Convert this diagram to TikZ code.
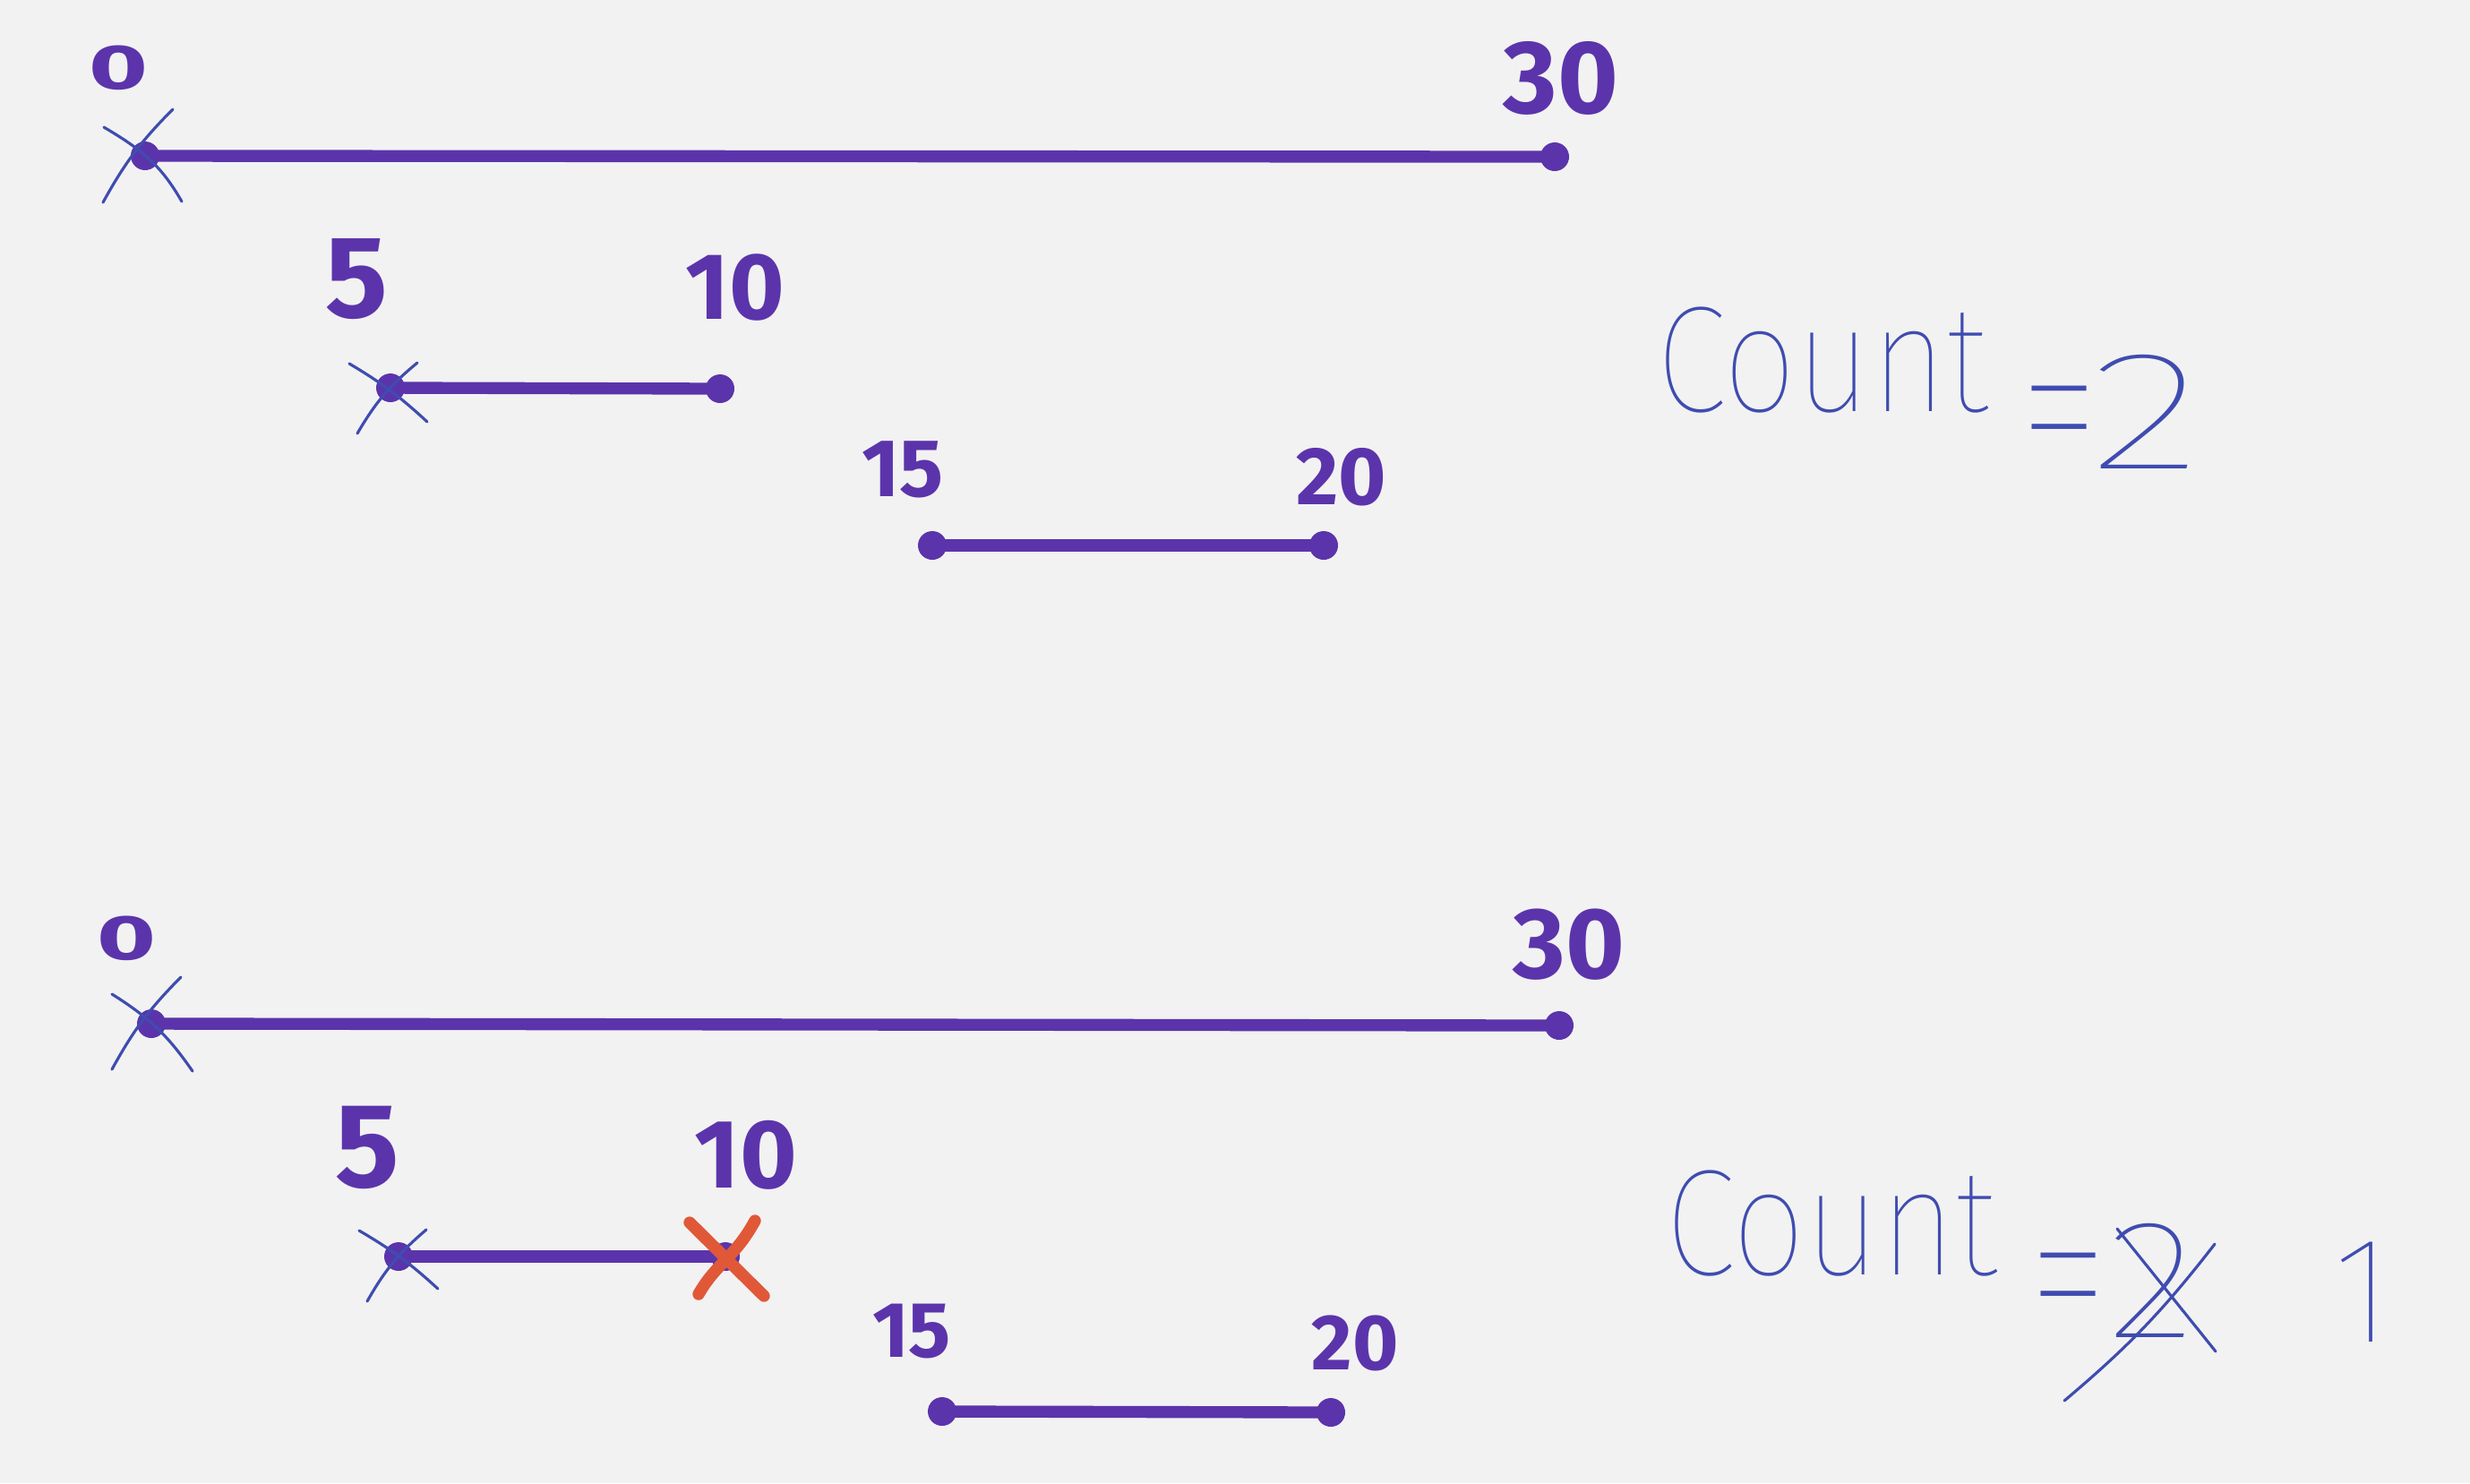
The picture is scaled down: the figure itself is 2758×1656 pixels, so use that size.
\documentclass[tikz,border=0pt]{standalone}
\usepackage{fontspec}
\usepackage{graphicx}
\setmainfont{Fira Sans}
\newfontfamily\thinfont{Fira Sans Thin}
\definecolor{bg}{RGB}{242,242,242}
\definecolor{pur}{RGB}{91,52,171}
\definecolor{ink}{RGB}{63,76,176}
\definecolor{redx}{RGB}{224,88,56}
\begin{document}
\begin{tikzpicture}[x=0.01cm,y=-0.01cm,
  seg/.style={draw=pur,line width=3.8pt,line cap=round},
  dotmark/.style={fill=pur},
  thinline/.style={draw=ink,line width=0.9pt,line cap=round},
  redstroke/.style={draw=redx,line width=3.8pt,line cap=round},
  num/.style={text=pur,inner sep=0pt,font=\bfseries\fontsize{#1}{#1}\selectfont},
  hand/.style={text=ink,inner sep=0pt,font=\thinfont\fontsize{#1}{#1}\selectfont}]
\path[fill=bg] (0,0) rectangle (2758,1656);

% ---------- top group ----------
\coordinate (a1) at (162,174);  \coordinate (b1) at (1736,175);
\coordinate (a2) at (436,433);  \coordinate (b2) at (804,434);
\coordinate (a3) at (1041,609); \coordinate (b3) at (1478,609);
\draw[seg] (a1) -- (b1);
\draw[seg] (a2) -- (b2);
\draw[seg] (a3) -- (b3);
\foreach \p in {a1,b1,a2,b2,a3,b3} \fill[dotmark] (\p) circle (16);

\coordinate (x1a) at (116,142); \coordinate (x1b) at (203,225);
\coordinate (x1c) at (193,122); \coordinate (x1d) at (115,226);
\draw[thinline] (x1a) .. controls (160,168) and (180,185) .. (x1b);
\draw[thinline] (x1c) to[bend right=8] (x1d);
\coordinate (x2a) at (390,406); \coordinate (x2b) at (477,471);
\coordinate (x2c) at (466,405); \coordinate (x2d) at (399,484);
\draw[thinline] (x2a) to[bend left=6] (x2b);
\draw[thinline] (x2c) to[bend right=10] (x2d);

\node[num=20] (t0)  at (132,76)   {\scalebox{1.6}[1]{0}};
\node[num=33] (t30) at (1743,87)  {30};
\node[num=37] (t5)  at (398,312)  {5};
\node[num=30] (t10) at (821,321)  {10};
\node[num=26] (t15) at (1008,524) {15};
\node[num=26] (t20) at (1498,533) {20};

\node[hand=48] (tc)  at (2035,402) {\scalebox{0.86}[1]{Count}};
\node[hand=48] (teq) at (2299,488) {\scalebox{1.1}[1.6]{=}};
\node[hand=48] (t2)  at (2396,460) {\scalebox{1.6}[1.12]{2}};

% ---------- bottom group ----------
\coordinate (c1) at (169,1143);  \coordinate (d1) at (1741,1145);
\coordinate (c2) at (445,1403);  \coordinate (d2) at (810,1403);
\coordinate (c3) at (1052,1576); \coordinate (d3) at (1486,1577);
\draw[seg] (c1) -- (d1);
\draw[seg] (c2) -- (d2);
\draw[seg] (c3) -- (d3);
\foreach \p in {c1,d1,c2,d2,c3,d3} \fill[dotmark] (\p) circle (16);

\coordinate (y1a) at (125,1110); \coordinate (y1b) at (215,1196);
\coordinate (y1c) at (202,1091); \coordinate (y1d) at (125,1194);
\draw[thinline] (y1a) .. controls (170,1138) and (190,1160) .. (y1b);
\draw[thinline] (y1c) to[bend right=8] (y1d);
\coordinate (y2a) at (401,1374); \coordinate (y2b) at (489,1439);
\coordinate (y2c) at (476,1373); \coordinate (y2d) at (410,1453);
\draw[thinline] (y2a) to[bend left=6] (y2b);
\draw[thinline] (y2c) to[bend right=10] (y2d);

\coordinate (r1) at (770,1365); \coordinate (r2) at (853,1447);
\coordinate (r3) at (843,1363); \coordinate (r4) at (780,1445);
\draw[redstroke] (r1) -- (r2);
\draw[redstroke] (r3) .. controls (820,1405) and (800,1410) .. (r4);

\node[num=20] (u0)  at (141,1048)  {\scalebox{1.6}[1]{0}};
\node[num=32] (u30) at (1752,1055) {30};
\node[num=38] (u5)  at (410,1281)  {5};
\node[num=31] (u10) at (833,1290)  {10};
\node[num=25] (u15) at (1018,1486) {15};
\node[num=25] (u20) at (1513,1500) {20};

\node[hand=48] (uc)  at (2045,1366) {\scalebox{0.86}[1]{Count}};
\node[hand=48] (ueq) at (2309,1456) {\scalebox{1.1}[1.6]{=}};
\node[hand=48] (u2)  at (2402,1430) {\scalebox{1.25}[1.12]{2}};
\node[hand=48] (u1)  at (2639,1443) {1};
\coordinate (z1) at (2364,1372); \coordinate (z2) at (2474,1509);
\coordinate (z3) at (2473,1389); \coordinate (z4) at (2305,1564);
\draw[thinline] (z1) -- (z2);
\draw[thinline] (z3) to[bend left=6] (z4);
\end{tikzpicture}
\end{document}
